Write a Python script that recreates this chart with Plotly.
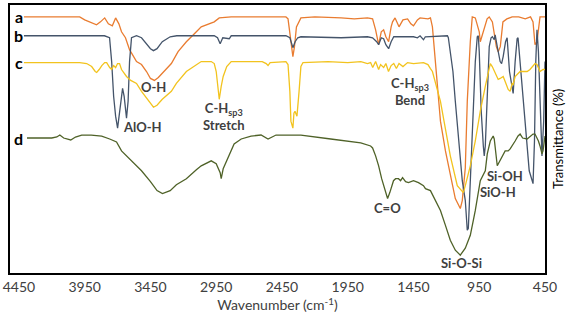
import plotly.graph_objects as go

# FTIR spectra, transmittance in arbitrary offset units
wn_a = [4412, 3988, 3950, 3900, 3860, 3830, 3798, 3770, 3740, 3715, 3690, 3670, 3640, 3609, 3580, 3556, 3518, 3480,
        3450, 3420, 3390, 3350, 3291, 3240, 3177, 3101, 3064, 2965, 2927, 2836, 2420, 2404, 2390, 2374, 2367, 2355,
        2340, 2306, 2200, 2000, 1900, 1800, 1761, 1738, 1715, 1695, 1677, 1660, 1639, 1620, 1609, 1590, 1560, 1530,
        1495, 1470, 1450, 1420, 1400, 1340, 1321, 1306, 1283, 1245, 1207, 1170, 1132, 1094, 1079, 1056, 1041, 1018,
        1003, 980, 950, 942, 920, 890, 874, 850, 820, 806, 790, 770, 740, 700, 650, 600, 560, 541, 526, 511, 488, 450]
t_a = [258, 258, 255, 252, 250, 253, 257, 251, 249, 257, 251, 243, 237, 225, 218, 213, 210, 203,
       196, 194, 197, 203, 211, 223, 233, 243, 248, 253, 257, 258, 258, 256, 243, 228, 218, 228,
       248, 257, 258, 257, 256, 257, 256, 245, 230, 243, 245, 238, 233, 248, 253, 257, 248, 255,
       256, 251, 249, 255, 257, 256, 257, 248, 213, 153, 123, 98, 75, 65, 73, 106, 173, 233,
       258, 257, 243, 233, 243, 256, 258, 253, 228, 223, 228, 253, 256, 258, 258, 256, 258, 253, 230, 233, 258, 258]

wn_b = [4412, 3800, 3761, 3745, 3730, 3715, 3700, 3685, 3670, 3662, 3650, 3632, 3620, 3609, 3594, 3556, 3518, 3480,
        3450, 3427, 3400, 3360, 3300, 3250, 2965, 2940, 2920, 2900, 2870, 2851, 2836, 2420, 2390, 2367, 2350, 2330,
        2306, 2000, 1800, 1761, 1730, 1715, 1695, 1677, 1660, 1639, 1620, 1600, 1450, 1420, 1400, 1374, 1360, 1192,
        1185, 1170, 1150, 1132, 1100, 1079, 1056, 1041, 1033, 1018, 1003, 980, 965, 957, 950, 935, 919, 912, 904,
        889, 874, 860, 850, 836, 829, 813, 800, 791, 780, 768, 750, 738, 720, 700, 692, 677, 662, 655, 640, 601,
        570, 541, 530, 520, 511, 500, 480, 473, 460, 450]
t_b = [239, 239, 237, 213, 178, 158, 146, 163, 183, 186, 178, 156, 173, 213, 237, 239, 237, 231,
       226, 224, 226, 233, 238, 239, 239, 237, 231, 237, 236, 236, 239, 239, 237, 227, 233, 237,
       238, 237, 238, 237, 233, 230, 237, 236, 230, 226, 233, 238, 238, 237, 239, 235, 238, 239,
       237, 223, 203, 173, 123, 93, 73, 43, 45, 93, 153, 213, 238, 239, 223, 163, 128, 118, 128,
       183, 228, 237, 238, 235, 240, 228, 218, 213, 211, 218, 233, 237, 203, 185, 181, 213, 236, 237, 213, 153,
       103, 90, 133, 213, 245, 223, 133, 118, 153, 213]

wn_c = [4412, 3988, 3935, 3897, 3870, 3859, 3840, 3820, 3798, 3783, 3760, 3745, 3730, 3715, 3700, 3685, 3670, 3632,
        3600, 3556, 3518, 3480, 3450, 3427, 3400, 3360, 3291, 3253, 3177, 3101, 3064, 2988, 2965, 2950, 2940, 2927,
        2912, 2897, 2870, 2851, 2836, 2600, 2570, 2556, 2540, 2420, 2404, 2390, 2382, 2367, 2359, 2351, 2336, 2320,
        2306, 2290, 2100, 1950, 1850, 1800, 1776, 1760, 1738, 1715, 1700, 1677, 1660, 1640, 1620, 1600, 1580, 1560,
        1530, 1495, 1450, 1374, 1340, 1321, 1306, 1245, 1207, 1170, 1117, 1071, 1056, 1018, 980, 942, 904, 866,
        851, 829, 806, 791, 768, 753, 730, 715, 700, 692, 677, 662, 639, 601, 586, 564, 541, 526, 511, 488, 465, 450]
t_c = [212, 212, 211, 208, 203, 202, 205, 209, 212, 212, 207, 205, 209, 207, 211, 211, 205, 198,
       194, 191, 183, 176, 170, 167, 169, 175, 183, 191, 203, 210, 213, 213, 211, 203, 193, 175,
       188, 198, 208, 211, 213, 213, 211, 209, 212, 213, 210, 183, 153, 146, 161, 163, 158, 183,
       208, 212, 213, 212, 213, 211, 212, 207, 213, 205, 210, 207, 211, 203, 209, 211, 206, 211,
       208, 212, 211, 212, 210, 206, 203, 173, 146, 118, 88, 81, 88, 108, 133, 163, 188, 211,
       208, 201, 195, 196, 198, 193, 185, 183, 191, 190, 198, 200, 203, 203, 203, 205, 208, 211, 210, 203, 205, 205]

wn_d = [4389, 4200, 4162, 4139, 4110, 4056, 4020, 3973, 3900, 3821, 3760, 3708, 3670, 3632, 3570, 3518, 3450, 3400,
        3359, 3300, 3253, 3177, 3101, 3064, 2988, 2950, 2920, 2912, 2897, 2859, 2814, 2760, 2685, 2609, 2556, 2495,
        2400, 2306, 2079, 1851, 1776, 1761, 1738, 1715, 1692, 1660, 1647, 1630, 1602, 1586, 1564, 1548, 1533, 1510,
        1488, 1450, 1412, 1374, 1359, 1321, 1283, 1245, 1207, 1170, 1132, 1094, 1056, 1018, 995, 980, 942, 904,
        889, 866, 844, 836, 813, 791, 770, 753, 730, 715, 677, 655, 639, 620, 586, 564, 541, 526, 500, 488, 473,
        465, 450]
t_d = [136, 136, 137, 139, 136, 134, 137, 139, 139, 138, 135, 132, 123, 118, 110, 103, 92, 83,
       80, 83, 89, 95, 104, 108, 113, 110, 101, 95, 105, 116, 130, 135, 138, 139, 135, 139,
       139, 139, 135, 131, 128, 126, 118, 108, 95, 81, 75, 81, 93, 95, 95, 93, 96, 92,
       91, 93, 91, 88, 85, 83, 73, 63, 48, 33, 23, 18, 25, 38, 53, 63, 93, 103,
       120, 133, 138, 135, 108, 113, 118, 123, 123, 125, 133, 138, 140, 136, 135, 137, 140, 140, 133, 128, 120,
       123, 138]

series = [("a", wn_a, t_a, "#E97C30"), ("b", wn_b, t_b, "#44546A"),
          ("c", wn_c, t_c, "#F2C31E"), ("d", wn_d, t_d, "#4F6228")]

tick_vals = [4450, 3950, 3450, 2950, 2450, 1950, 1450, 950, 450]

fig = go.Figure()
for name, x, y, col in series:
    fig.add_trace(go.Scatter(x=x, y=y, mode="lines", name=name,
                             line=dict(color=col, width=1.3), showlegend=False))

# curve letters at the left
for name, x, y, col in series:
    fig.add_annotation(x=4450, y=y[0], text=name, showarrow=False,
                       font=dict(size=16, color="black", weight="bold"))

# band labels
bands = [("O-H", 3427, 187), ("AlO-H", 3511, 147),
         ("C-H<sub>sp3</sub><br>Stretch", 2893, 158),
         ("C-H<sub>sp3</sub><br>Bend", 1473, 183),
         ("C=O", 1647, 65), ("Si-OH", 753, 98), ("SiO-H", 806, 82),
         ("Si-O-Si", 1086, 10)]
for txt, x, y in bands:
    fig.add_annotation(x=x, y=y, text=txt, showarrow=False,
                       font=dict(size=13, color="#404040", weight="bold"))

# right-hand axis title
fig.add_annotation(xref="paper", yref="paper", x=1, y=0.5, xanchor="center", yanchor="middle",
                   xshift=13, text="Transmittance (%)", textangle=-90, showarrow=False,
                   font=dict(size=13, color="black"))

fig.update_xaxes(range=[4518, 450], tickvals=tick_vals, ticks="", showgrid=False, zeroline=False,
                 showline=True, mirror=True, linecolor="black", linewidth=1.5,
                 tickfont=dict(size=14, color="#404040"), ticklabelstandoff=0,
                 title=dict(text="Wavenumber (cm<sup>-1</sup>)", font=dict(size=14, color="#404040"), standoff=4))
fig.update_yaxes(range=[0, 270], showticklabels=False, ticks="", showgrid=False, zeroline=False,
                 showline=True, mirror=True, linecolor="black", linewidth=1.5)
fig.update_layout(width=567, height=325, margin=dict(l=8, r=22, t=3, b=52),
                  plot_bgcolor="white", paper_bgcolor="white",
                  font=dict(family="Lato, Open Sans, sans-serif"))

# drop the default page margin so the 567x325 figure fills the window exactly
fig.write_html("out.html", config={"displayModeBar": False},
               post_script="document.body.style.margin='0px'; document.body.style.overflow='hidden';")
